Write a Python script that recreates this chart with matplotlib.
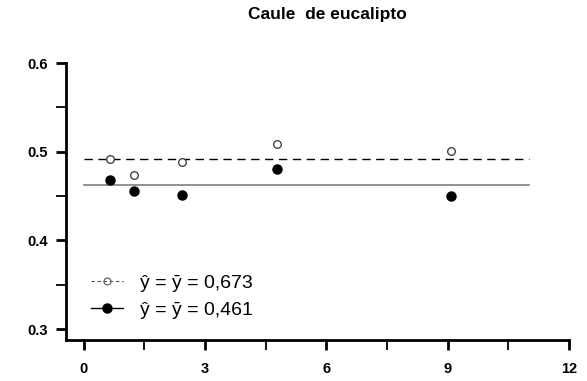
import matplotlib
matplotlib.use("Agg")
import matplotlib.pyplot as plt
from matplotlib.ticker import MultipleLocator

plt.rcParams['font.family'] = ['Liberation Sans', 'DejaVu Sans']

x = [0.64, 1.23, 2.44, 4.77, 9.09]
y_open = [0.492, 0.474, 0.488, 0.509, 0.501]
y_filled = [0.468, 0.456, 0.451, 0.480, 0.450]
mean_open = 0.492
mean_filled = 0.462
line_x = [0, 11]
labels = ["ŷ = ȳ = 0,673", "ŷ = ȳ = 0,461"]
title = "Caule  de eucalipto"

fig = plt.figure(figsize=(5.87, 3.81), dpi=100)
ax = fig.add_axes([0.1124, 0.1076, 0.9693 - 0.1124, 0.8346 - 0.1076])

ax.plot(line_x, [mean_open] * 2, color='black', lw=1.0, ls=(0, (6, 4)))
ax.plot(line_x, [mean_filled] * 2, color='#808080', lw=1.2)
ax.plot(x, y_open, 'o', mfc='white', mec='#333333', ms=5.5, mew=0.9)
ax.plot(x, y_filled, 'o', mfc='black', mec='black', ms=6.5)

h1, = ax.plot([], [], ls=(0, (3, 2.5)), color='#555555', lw=0.8, marker='o', mfc='none', mec='#555555', ms=5, mew=0.8)
h2, = ax.plot([], [], ls='-', color='black', lw=1.0, marker='o', mfc='black', mec='black', ms=6.5)
ax.legend([h1, h2], labels, loc='lower left', bbox_to_anchor=(0.015, 0.014), frameon=False,
          fontsize=14, handlelength=1.65, handletextpad=0.85, labelspacing=0.46)

ax.set_xlim(-0.44, 12)
ax.set_ylim(0.2876, 0.6)
ax.xaxis.set_minor_locator(MultipleLocator(1.5))
ax.yaxis.set_minor_locator(MultipleLocator(0.05))
ax.set_xticks([0, 3, 6, 9, 12])
ax.set_yticks([0.3, 0.4, 0.5, 0.6])
ax.set_yticklabels(['0.3', '0.4', '0.5', '0.6'])

for s in ['top', 'right']:
    ax.spines[s].set_visible(False)
for s in ['left', 'bottom']:
    ax.spines[s].set_linewidth(2)
ax.tick_params(which='major', length=7, width=2, labelsize=10.5)
ax.tick_params(which='minor', length=7, width=1.3)
for lab in ax.get_xticklabels() + ax.get_yticklabels():
    lab.set_fontweight('bold')
ax.tick_params(axis='x', which='both', pad=9)
ax.tick_params(axis='y', which='both', pad=6)

fig.text(327 / 587, 1 - 14 / 381, title, ha='center', va='center', fontsize=12.5, fontweight='bold')

fig.savefig('out.png', dpi=100)
